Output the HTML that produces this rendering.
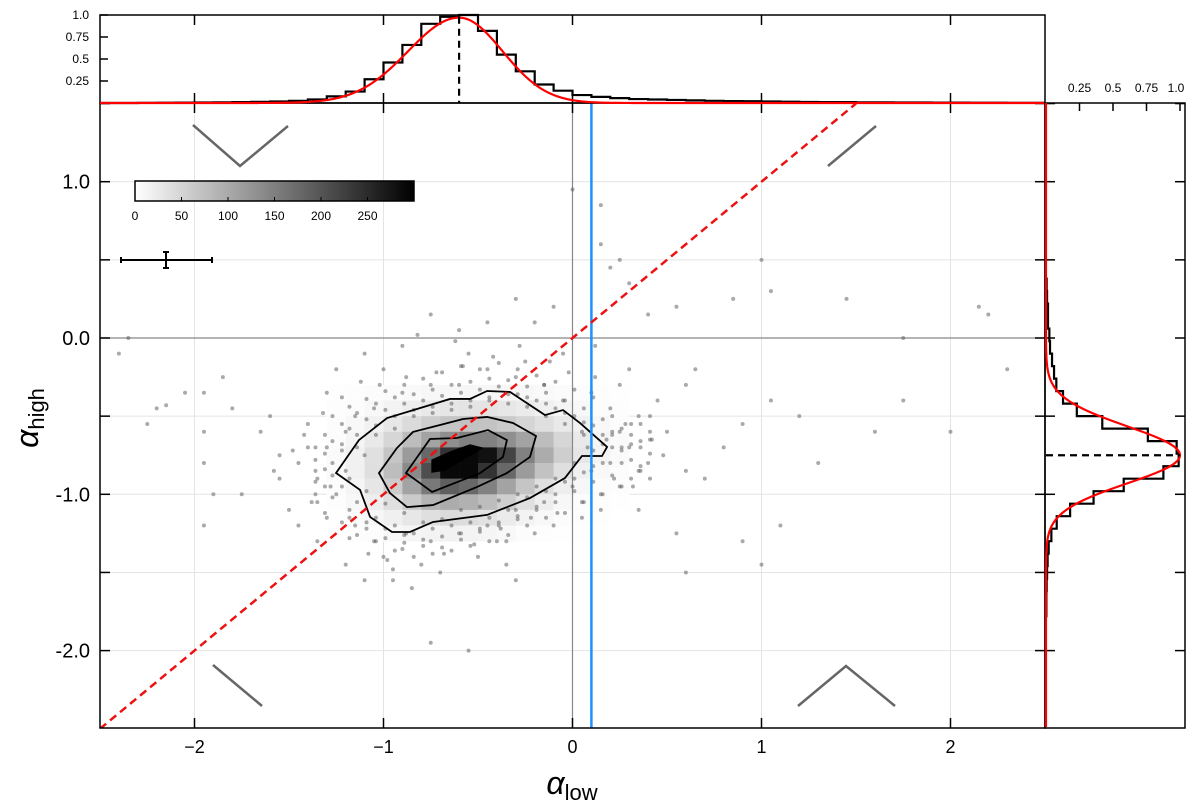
<!DOCTYPE html>
<html><head><meta charset="utf-8"><style>
html,body{margin:0;padding:0;background:#fff;}
svg{display:block;font-family:"Liberation Sans","DejaVu Sans",sans-serif;}
</style></head><body>
<svg id="chart" width="1200" height="808" viewBox="0 0 1200 808" xmlns="http://www.w3.org/2000/svg">
<g id="main"></g>
</svg>
<script>
// ---- data ----
const xTicks = [-2, -1, 0, 1, 2];
const xTickLabels = ["\u22122", "\u22121", "0", "1", "2"];
const yTicks = [1, 0, -1, -2];
const yTickLabels = ["1.0", "0.0", "-1.0", "-2.0"];
const topHistStart = -2.5, topHistStep = 0.1;
const topHistValues = [0,0,0.002,0.003,0.004, 0.006,0.008,0.01,0.013,0.017, 0.025,0.04,0.075,
 0.13,0.27,0.46,0.66,0.90,0.98,1.0,0.82,0.55,0.36,0.21,0.14,0.09,0.07,0.055,0.045,0.04,0.035,0.03,0.025,0.022,0.02,0.018,0.015,0.012,0.01,0.01,0.008,0.008,0.006,0.006,0.005,0.004,0.003,0.003,0.002,0.002];
const rightHistTop = 0.38, rightHistStep = 0.08;
const rightHistValues = [0.005,0.008,0.015,0.015,0.025,0.03,0.045,0.06,0.077,0.127,0.23,0.42,0.76,0.975,0.99,0.876,0.58,0.355,0.18,0.08,0.04,0.02,0.012,0.008,0.005,0.003,0.003];
const topFit = [-0.6, 0.97, 0.27, 0.23];   // center, amp, sigmaLeft, sigmaRight
const rightFit = [-0.75, 1.0, 0.185, 0.18];
const heatX0 = -1.3, heatY0 = -0.3, heatStep = 0.1;
const heatCounts = [
 [1,2,3,5,7,9,10,11,11,10,9,7,5,4,2,1],
 [2,4,8,14,20,26,30,32,32,28,23,18,12,8,4,2],
 [3,8,16,28,42,58,68,72,70,62,50,38,26,16,8,4],
 [4,12,26,48,78,108,132,148,148,132,108,78,48,26,12,6],
 [6,16,36,68,118,178,240,290,280,220,148,98,58,30,14,6],
 [6,16,38,78,138,208,290,290,240,178,118,72,38,18,8,3],
 [4,12,30,60,108,158,188,178,148,108,68,38,20,10,4,2],
 [2,8,20,38,62,88,98,92,78,58,36,20,10,4,2,1],
 [1,4,10,18,28,38,42,40,34,24,14,8,4,2,1,0],
 [1,2,4,8,12,14,16,14,12,8,4,2,1,1,0,0]];
const contourOuter = [[-1.251,-0.864],[-1.13,-0.653],[-0.981,-0.512],[-0.823,-0.454],[-0.648,-0.39],[-0.542,-0.39],[-0.452,-0.339],[-0.331,-0.345],[-0.146,-0.493],[-0.05,-0.461],[0.04,-0.544],[0.183,-0.697],[0.156,-0.755],[0.05,-0.755],[-0.04,-0.896],[-0.225,-1.024],[-0.452,-1.132],[-0.738,-1.177],[-0.86,-1.241],[-0.955,-1.241],[-1.071,-1.145],[-1.124,-0.972]];
const contourMiddle = [[-1.024,-0.864],[-0.929,-0.704],[-0.844,-0.601],[-0.701,-0.557],[-0.579,-0.518],[-0.452,-0.505],[-0.315,-0.544],[-0.193,-0.627],[-0.225,-0.761],[-0.347,-0.864],[-0.505,-0.953],[-0.738,-1.069],[-0.876,-1.082],[-0.966,-0.992]];
const contourInner = [[-0.881,-0.864],[-0.754,-0.646],[-0.611,-0.64],[-0.447,-0.589],[-0.347,-0.653],[-0.368,-0.761],[-0.489,-0.864],[-0.743,-0.985],[-0.807,-0.928]];
const contourCore = [[-0.743,-0.781],[-0.632,-0.723],[-0.542,-0.685],[-0.479,-0.704],[-0.558,-0.761],[-0.675,-0.845],[-0.743,-0.857]];
const scatterX = [-2.35,-2.4,-2.2,-2.15,-2.05,-1.95,-1.95,-1.95,-1.9,-1.75,-1.8,-1.85,-2.25,-1.65,-1.6,-1.55,-1.55,-1.5,-1.45,-1.35,-1.2,-1.1,-0.95,-0.85,-0.7,-0.5,-0.35,-0.2,-0.1,0.05,0.15,0.25,0.35,0.55,0.6,0.9,1.0,1.1,0.8,0.9,1.05,1.2,1.3,1.6,1.75,2.0,2.3,2.2,2.15,1.75,1.45,1.05,1.0,0.85,0.55,0.4,0.3,0.2,0.15,-0.1,-0.2,-0.3,-0.45,-0.6,-0.75,-0.9,-1.1,-1.25,0.15,0.0,0.25,0.45,0.5,0.6,0.7,0.4,-0.55,-0.75,-1.95,-0.3,0.3,0.35,0.6,0.65,-0.05,-0.15,-1.3,-1.4,-1.45,
 -1.3,-1.35,-1.2,-1.25,-1.15,-1.05,-0.9,-0.75,-0.6,-0.45,-0.3,-0.15,0.0,0.1,0.2,0.25,0.2,0.1,-0.05,-0.15,-0.3,-0.45,-0.6,-0.75,-0.9,-1.05,-1.15,-1.4,-1.3,0.3,0.35,0.15,-0.25,-0.55,-1.0,-1.2,-1.1,0.05,0.25,-0.4,-0.8,-1.0,
 -1.42,-1.38,-1.28,-1.18,-1.08,-0.98,-0.88,-0.68,-0.52,-0.38,-0.22,-0.08,0.08,0.18,0.28,0.22,0.12,-0.02,-0.12,-0.28,-0.42,-0.58,-0.72,-0.88,-1.02,-1.12,-1.22,-1.32,0.32,0.42,-0.62,-0.82,-1.48,-1.58,0.48,0.05,-0.35,-0.95,-1.35,0.12];
const scatterY = [0.0,-0.1,-0.45,-0.43,-0.35,-0.35,-0.6,-0.8,-1.0,-1.0,-0.45,-0.25,-0.55,-0.6,-0.5,-0.75,-0.9,-1.1,-1.2,-1.3,-1.45,-1.55,-1.55,-1.6,-1.5,-1.4,-1.3,-1.25,-1.2,-1.05,-1.0,-0.95,-1.1,-1.25,-1.5,-1.3,-1.45,-1.2,-0.7,-0.55,-0.4,-0.5,-0.8,-0.6,-0.4,-0.6,-0.2,0.15,0.2,0.0,0.25,0.3,0.5,0.25,0.2,0.15,0.35,0.45,0.6,0.2,0.1,0.25,0.1,0.05,0.15,-0.05,-0.1,-0.2,0.85,0.95,0.5,-0.4,-0.6,-0.85,-0.9,-0.8,-2.0,-1.95,-1.2,-1.55,-0.2,-0.5,-0.3,-0.2,-0.1,-0.3,-0.35,-0.55,-0.8,
 -0.7,-0.9,-0.6,-1.0,-1.2,-1.3,-1.35,-1.3,-1.25,-1.2,-1.1,-1.05,-0.95,-0.85,-0.8,-0.6,-0.45,-0.35,-0.4,-0.3,-0.25,-0.2,-0.3,-0.3,-0.35,-0.45,-0.5,-0.7,-1.15,-0.7,-0.85,-1.1,-0.15,-0.1,-0.2,-0.85,-0.75,-0.6,-0.3,-1.3,-1.45,-1.4,
 -0.62,-1.05,-0.95,-1.28,-1.38,-1.42,-1.25,-1.38,-1.32,-1.22,-1.15,-1.12,-0.7,-0.65,-0.55,-0.9,-0.25,-0.22,-0.15,-0.05,-0.12,-0.18,-0.22,-0.25,-0.3,-0.28,-0.38,-0.48,-0.95,-0.65,-0.02,0.02,-0.72,-0.85,-0.75,-1.15,-1.45,-1.48,-1.05,-0.05];
// dense cloud batches (share x positions)
const cloudX = [-1.36,-1.31,-1.27,-1.22,-1.18,-1.14,-1.09,-1.04,-0.99,-0.94,-0.89,-0.84,-0.79,-0.74,-0.69,-0.64,-0.59,-0.54,-0.49,-0.44,-0.39,-0.34,-0.29,-0.24,-0.19,-0.14,-0.09,-0.04,0.01,0.06,0.11,0.16,0.21,0.26,0.31,0.36,0.41];
const cloudY1 = [-0.78,-0.62,-1.02,-0.55,-1.1,-0.48,-1.22,-0.42,-1.28,-0.38,-1.31,-0.36,-1.33,-0.33,-1.34,-0.3,-1.29,-0.28,-1.24,-0.26,-1.2,-0.27,-1.16,-0.31,-1.1,-0.35,-1.05,-0.4,-0.98,-0.45,-0.92,-0.52,-0.88,-0.58,-0.78,-0.66,-0.74];
const cloudY2 = [-0.92,-1.12,-0.5,-1.18,-0.44,-1.26,-0.39,-1.3,-0.34,-1.36,-0.3,-1.4,-0.26,-1.38,-0.22,-1.36,-0.18,-1.33,-0.2,-1.3,-0.16,-1.26,-0.2,-1.2,-0.24,-1.15,-0.28,-1.12,-0.33,-1.05,-0.38,-1.0,-0.5,-0.95,-0.55,-0.85,-0.6];
const cloudY3 = [-0.7,-0.84,-0.66,-0.95,-0.58,-1.05,-0.52,-1.15,-0.46,-1.2,-0.42,-1.25,-0.4,-1.22,-0.37,-1.2,-0.35,-1.18,-0.33,-1.15,-0.31,-1.1,-0.36,-1.02,-0.4,-0.98,-0.45,-0.92,-0.5,-0.86,-0.56,-0.8,-0.62,-0.72,-0.68,-0.7,-0.9];
const cloudY4 = [-0.85,-0.74,-0.88,-0.68,-1.15,-0.62,-1.18,-0.56,-1.22,-0.5,-1.26,-0.46,-1.29,-0.44,-1.27,-0.42,-1.25,-0.4,-1.22,-0.38,-1.18,-0.36,-1.14,-0.38,-1.08,-0.42,-1.0,-0.48,-0.9,-0.54,-0.82,-0.62,-0.7,-0.7,-0.62,-0.82,-0.5];
const cloudY5 = [-1.0,-0.95,-0.8,-0.72,-0.9,-0.7,-0.98,-0.62,-1.06,-0.58,-1.12,-0.5,-1.18,-0.48,-1.16,-0.46,-1.1,-0.44,-1.08,-0.4,-1.04,-0.42,-1.0,-0.44,-0.95,-0.5,-0.9,-0.55,-0.8,-0.62,-0.72,-0.68,-0.6,-0.8,-0.9,-0.55,-0.65];

// ---- scales ----
const X = v => 572.5 + 189 * v;
const Y = v => 338 - 156.3 * v;
const HY = v => 103 - 88 * v;
const RX = v => 1046 + 134 * v;
const NS = "http://www.w3.org/2000/svg";
const root = document.getElementById('main');
function mk(tag, attrs, parent) {
  const e = document.createElementNS(NS, tag);
  for (const k in attrs) e.setAttribute(k, attrs[k]);
  (parent || root).appendChild(e);
  return e;
}
function txt(s, x, y, size, anchor, parent) {
  const t = mk('text', {x: x, y: y, 'font-size': size, 'text-anchor': anchor || 'middle', fill: '#000'}, parent);
  t.textContent = s;
  return t;
}
function grey(v) { const c = Math.round(255 * (1 - Math.min(v, 300) / 300)); return `rgb(${c},${c},${c})`; }

const defs = mk('defs', {});
const cp = mk('clipPath', {id: 'clipMain'}, defs);
mk('rect', {x: 100, y: 103, width: 945, height: 625}, cp);

// grid
const grid = mk('g', {'clip-path': 'url(#clipMain)'});


[-2, -1, 1, 2].forEach(v => mk('line', {x1: X(v), x2: X(v), y1: 103, y2: 728, stroke: '#e4e4e4', 'stroke-width': 1}, grid));
[1, 0.5, -0.5, -1, -1.5, -2].forEach(v => mk('line', {x1: 100, x2: 1045, y1: Y(v), y2: Y(v), stroke: '#e4e4e4', 'stroke-width': 1}, grid));

// heatmap
const heat = mk('g', {});


heatCounts.forEach((row, r) => row.forEach((c, k) => {
  const x0 = heatX0 + k * heatStep, y1 = heatY0 - r * heatStep;
  const cell = mk('rect', {x: X(x0), y: Y(y1), width: X(x0 + heatStep) - X(x0) + 0.3, height: Y(y1 - heatStep) - Y(y1) + 0.3, fill: grey(c)}, heat);
  
  
}));

mk('line', {x1: X(0), x2: X(0), y1: 103, y2: 728, stroke: '#888', 'stroke-width': 1.2});
mk('line', {x1: 100, x2: 1045, y1: Y(0), y2: Y(0), stroke: '#888', 'stroke-width': 1.2});

// scatter
const sc = mk('g', {fill: '#555', 'fill-opacity': 0.5});


function dot(x, y) {
  const p = mk('circle', {cx: X(x), cy: Y(y), r: 2}, sc);
  
  
}
scatterX.forEach((v, i) => dot(v, scatterY[i]));
[cloudY1, cloudY2, cloudY3, cloudY4, cloudY5].forEach(arr => cloudX.forEach((v, i) => dot(v, arr[i])));

// contours
[contourOuter, contourMiddle, contourInner].forEach((c, i) => {
  const pg = mk('polygon', {points: c.map(p => X(p[0]) + ',' + Y(p[1])).join(' '), fill: 'none', stroke: '#000', 'stroke-width': 1.8});
  
  
});
const core = mk('polygon', {points: contourCore.map(p => X(p[0]) + ',' + Y(p[1])).join(' '), fill: '#000', stroke: '#000', 'stroke-width': 1.5});



const blue = mk('line', {x1: X(0.1), x2: X(0.1), y1: 103, y2: 728, stroke: '#1e90ff', 'stroke-width': 2.5});


const oneone = mk('line', {x1: X(-2.5), y1: Y(-2.5), x2: X(1.5), y2: Y(1.5), stroke: '#ee1111', 'stroke-width': 2.5, 'stroke-dasharray': '8,5', 'clip-path': 'url(#clipMain)'});



const chev = mk('g', {stroke: '#666', 'stroke-width': 2.5, fill: 'none'});


mk('polyline', {points: '193,125 240,166 288,126'}, chev);
mk('polyline', {points: '828,166 876,126'}, chev);
mk('polyline', {points: '213,665 262,706'}, chev);
mk('polyline', {points: '798,706 846,666 895,706'}, chev);

// colorbar
const gd = mk('linearGradient', {id: 'cbg', x1: 0, x2: 1, y1: 0, y2: 0}, defs);
mk('stop', {offset: 0, 'stop-color': '#fff'}, gd);
mk('stop', {offset: 1, 'stop-color': '#000'}, gd);
const cb = mk('g', {});


mk('rect', {x: 135, y: 181, width: 279, height: 20, fill: 'url(#cbg)', stroke: '#000', 'stroke-width': 1.5}, cb);
[0, 50, 100, 150, 200, 250].forEach(v => {
  const cx = 135 + v * 279 / 300;
  mk('line', {x1: cx, x2: cx, y1: 201, y2: 197, stroke: '#000', 'stroke-width': 1}, cb);
  txt(String(v), cx, 220, 12, 'middle', cb);
});

// error bar
const eb = mk('g', {stroke: '#000', 'stroke-width': 2});


mk('line', {x1: 121, x2: 212, y1: 260, y2: 260}, eb);
mk('line', {x1: 121, x2: 121, y1: 257, y2: 263}, eb);
mk('line', {x1: 212, x2: 212, y1: 257, y2: 263}, eb);
mk('line', {x1: 166, x2: 166, y1: 252, y2: 268}, eb);
mk('line', {x1: 163, x2: 169, y1: 252, y2: 252}, eb);
mk('line', {x1: 163, x2: 169, y1: 268, y2: 268}, eb);

// axes
const ax = mk('g', {stroke: '#000', 'stroke-width': 1.5, fill: 'none'});


mk('rect', {x: 100, y: 103, width: 945, height: 625}, ax);
xTicks.forEach(v => {
  mk('line', {x1: X(v), x2: X(v), y1: 728, y2: 718}, ax);
  mk('line', {x1: X(v), x2: X(v), y1: 103, y2: 113}, ax);
  mk('line', {x1: X(v), x2: X(v), y1: 103, y2: 93}, ax);
  mk('line', {x1: X(v), x2: X(v), y1: 15, y2: 25}, ax);
});
[1.5,1, 0.5, 0, -0.5, -1, -1.5, -2].forEach(v => {
  mk('line', {x1: 100, x2: 110, y1: Y(v), y2: Y(v)}, ax);
  mk('line', {x1: 1045, x2: 1035, y1: Y(v), y2: Y(v)}, ax);
  mk('line', {x1: 1045, x2: 1055, y1: Y(v), y2: Y(v)}, ax);
  mk('line', {x1: 1185, x2: 1175, y1: Y(v), y2: Y(v)}, ax);
});
xTicks.forEach((v, i) => { const t = txt(xTickLabels[i], X(v), 753, 18);
    });
yTicks.forEach((v, i) => { const t = txt(yTickLabels[i], 90, Y(v) + 7, 20, 'end');
    });

const xt = mk('text', {x: 572, y: 794, 'font-size': 32, 'text-anchor': 'middle', fill: '#000'});


xt.innerHTML = '<tspan font-style="italic">α</tspan><tspan font-size="22" dy="6">low</tspan>';
const yt = mk('text', {x: 0, y: 0, 'font-size': 32, 'text-anchor': 'middle', fill: '#000', transform: 'translate(38,418) rotate(-90)'});


yt.innerHTML = '<tspan font-style="italic">α</tspan><tspan font-size="22" dy="6">high</tspan>';

// top histogram
const th = mk('g', {});


mk('rect', {x: 100, y: 15, width: 945, height: 88, fill: 'none', stroke: '#000', 'stroke-width': 1.5}, th);
let d = '';
topHistValues.forEach((v, i) => {
  const a = topHistStart + i * topHistStep, b = a + topHistStep;
  d += (i ? 'L' : 'M') + X(a) + ',' + HY(v) + 'L' + X(b) + ',' + HY(v);
});
mk('path', {d: d, fill: 'none', stroke: '#000', 'stroke-width': 2.2}, th);
let fd = '';
for (let px = 100; px <= 1045; px += 2) {
  const v = (px - 572.5) / 189, s = v < topFit[0] ? topFit[2] : topFit[3];
  const f = topFit[1] * Math.exp(-Math.pow(v - topFit[0], 2) / (2 * s * s));
  fd += (px === 100 ? 'M' : 'L') + px + ',' + HY(f);
}
const tf = mk('path', {d: fd, fill: 'none', stroke: '#ff0000', 'stroke-width': 2.2}, th);


mk('line', {x1: X(topFit[0]), x2: X(topFit[0]), y1: HY(0.98), y2: 103, stroke: '#000', 'stroke-width': 2.2, 'stroke-dasharray': '7,5'}, th);
[[1, '1.0'], [0.75, '0.75'], [0.5, '0.5'], [0.25, '0.25']].forEach(p => {
  mk('line', {x1: 100, x2: 108, y1: HY(p[0]), y2: HY(p[0]), stroke: '#000', 'stroke-width': 1.5}, th);
  txt(p[1], 89, HY(p[0]) + 4, 12, 'end', th);
});

// right histogram
const rh = mk('g', {});


mk('rect', {x: 1045, y: 103, width: 140, height: 625, fill: 'none', stroke: '#000', 'stroke-width': 1.5}, rh);
let rd = 'M' + RX(0) + ',' + Y(rightHistTop);
rightHistValues.forEach((v, i) => {
  const a = rightHistTop - i * rightHistStep, b = a - rightHistStep;
  rd += 'L' + RX(v) + ',' + Y(a) + 'L' + RX(v) + ',' + Y(b);
});
rd += 'L' + RX(0) + ',' + Y(rightHistTop - rightHistValues.length * rightHistStep);
mk('path', {d: rd, fill: 'none', stroke: '#000', 'stroke-width': 2.2}, rh);
let rf = '';
for (let py = 103; py <= 728; py += 2) {
  const v = (338 - py) / 156.3, s = v > rightFit[0] ? rightFit[2] : rightFit[3];
  const f = rightFit[1] * Math.exp(-Math.pow(v - rightFit[0], 2) / (2 * s * s));
  rf += (py === 103 ? 'M' : 'L') + RX(f) + ',' + py;
}
const rfc = mk('path', {d: rf, fill: 'none', stroke: '#ff0000', 'stroke-width': 2.2}, rh);


mk('line', {x1: 1046, x2: RX(1.0), y1: Y(rightFit[0]), y2: Y(rightFit[0]), stroke: '#000', 'stroke-width': 2.2, 'stroke-dasharray': '7,5'}, rh);
[[0.25, '0.25'], [0.5, '0.5'], [0.75, '0.75'], [1, '1.0']].forEach(p => {
  mk('line', {x1: RX(p[0]), x2: RX(p[0]), y1: 103, y2: 111, stroke: '#000', 'stroke-width': 1.5}, rh);
  txt(p[1], RX(p[0]) - (p[0] === 1 ? 4 : 0), 92, 12, 'middle', rh);
});
</script>
</body></html>
